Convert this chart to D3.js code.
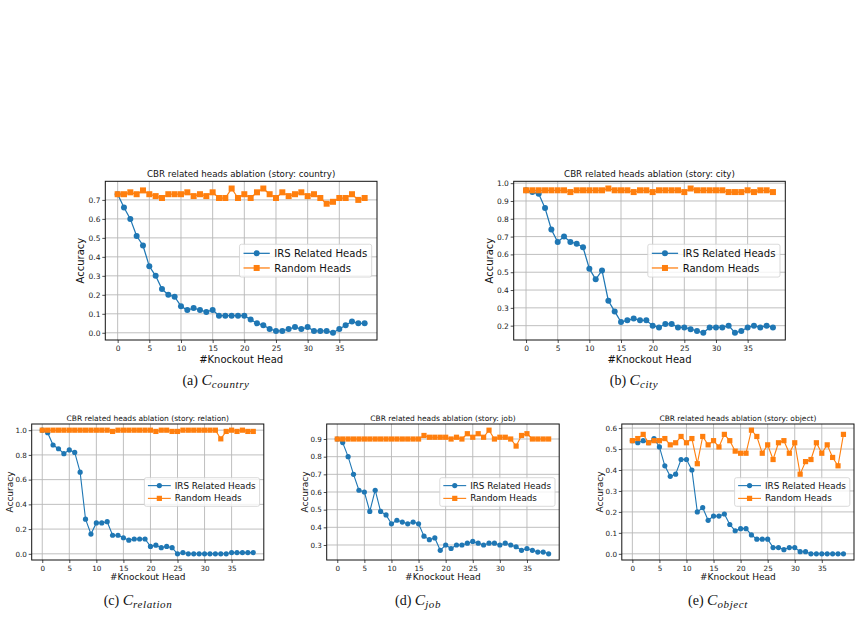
<!DOCTYPE html>
<head>
    <style>
        body {
            margin: 0;
            background: #fff;
            font-family: "DejaVu Sans", sans-serif;
        }

        .grid line {
            stroke: #b8b8b8;
            stroke-width: 0.9px;
        }

        .axis path.domain {
            display: none;
        }

        .axis line {
            stroke: #222;
            stroke-width: 0.8px;
        }

        .axis text {
            fill: #222;
        }

        .frame {
            fill: none;
            stroke: #111;
            stroke-width: 1px;
        }

        .caption {
            font-family: "Liberation Serif", "DejaVu Serif", serif;
            fill: #111;
        }
    </style>

    <script src='https://d3js.org/d3.v7.min.js'></script>
</head>
<body>
    <script>
        // accuracy per number of knocked-out heads (index = #heads)
        const countryIRS = [0.73, 0.66, 0.60, 0.51, 0.46, 0.35, 0.30, 0.23, 0.20, 0.19, 0.14, 0.12, 0.13, 0.12, 0.11, 0.12, 0.09, 0.09, 0.09, 0.09,
            0.09, 0.07, 0.05, 0.04, 0.02, 0.01, 0.01, 0.02, 0.03, 0.02, 0.03, 0.01, 0.01, 0.01, 0.00, 0.02, 0.04, 0.06, 0.05, 0.05];
        const countryRandom = [0.73, 0.73, 0.74, 0.73, 0.75, 0.73, 0.72, 0.71, 0.73, 0.73, 0.73, 0.74, 0.72, 0.73, 0.72, 0.74, 0.71, 0.71, 0.76, 0.71,
            0.73, 0.71, 0.74, 0.76, 0.73, 0.71, 0.74, 0.72, 0.73, 0.74, 0.72, 0.73, 0.71, 0.68, 0.69, 0.71, 0.71, 0.73, 0.70, 0.71];

        const cityIRS = [0.96, 0.95, 0.94, 0.86, 0.74, 0.67, 0.70, 0.67, 0.66, 0.64, 0.52, 0.46, 0.51, 0.34, 0.28, 0.22, 0.23, 0.24, 0.23, 0.23,
            0.20, 0.19, 0.21, 0.21, 0.19, 0.19, 0.18, 0.17, 0.16, 0.19, 0.19, 0.19, 0.20, 0.16, 0.17, 0.19, 0.20, 0.19, 0.20, 0.19];
        const cityRandom = [0.96, 0.96, 0.96, 0.96, 0.96, 0.96, 0.96, 0.95, 0.96, 0.96, 0.96, 0.96, 0.96, 0.97, 0.96, 0.96, 0.96, 0.95, 0.96, 0.96,
            0.95, 0.96, 0.96, 0.96, 0.96, 0.95, 0.97, 0.96, 0.96, 0.96, 0.96, 0.96, 0.95, 0.95, 0.95, 0.96, 0.95, 0.96, 0.96, 0.95];

        const relationIRS = [1.00, 0.98, 0.88, 0.85, 0.81, 0.84, 0.82, 0.66, 0.28, 0.16, 0.25, 0.25, 0.26, 0.15, 0.15, 0.13, 0.11, 0.12, 0.12, 0.12,
            0.06, 0.07, 0.05, 0.06, 0.05, 0.00, 0.01, 0.00, 0.00, 0.00, 0.00, 0.00, 0.00, 0.00, 0.00, 0.01, 0.01, 0.01, 0.01, 0.01];
        const relationRandom = [1.00, 1.00, 1.00, 1.00, 1.00, 1.00, 1.00, 1.00, 1.00, 1.00, 1.00, 1.00, 1.00, 0.99, 1.00, 1.00, 1.00, 1.00, 1.00, 1.00,
            1.00, 0.99, 1.00, 1.00, 0.99, 0.99, 1.00, 1.00, 1.00, 1.00, 1.00, 1.00, 1.00, 0.93, 0.99, 1.00, 0.99, 1.00, 0.99, 0.99];

        const jobIRS = [0.90, 0.88, 0.80, 0.70, 0.61, 0.60, 0.49, 0.61, 0.49, 0.47, 0.42, 0.44, 0.43, 0.42, 0.43, 0.42, 0.35, 0.33, 0.34, 0.27,
            0.30, 0.28, 0.30, 0.30, 0.31, 0.32, 0.31, 0.30, 0.31, 0.31, 0.30, 0.31, 0.30, 0.29, 0.27, 0.28, 0.27, 0.26, 0.26, 0.25];
        const jobRandom = [0.90, 0.90, 0.90, 0.90, 0.90, 0.90, 0.90, 0.90, 0.90, 0.90, 0.90, 0.90, 0.90, 0.90, 0.90, 0.90, 0.92, 0.91, 0.91, 0.91,
            0.91, 0.90, 0.91, 0.90, 0.93, 0.91, 0.93, 0.91, 0.95, 0.90, 0.91, 0.91, 0.90, 0.86, 0.92, 0.93, 0.90, 0.90, 0.90, 0.90];

        const objectIRS = [0.54, 0.53, 0.54, 0.53, 0.55, 0.51, 0.42, 0.37, 0.38, 0.45, 0.45, 0.40, 0.20, 0.22, 0.16, 0.18, 0.18, 0.19, 0.14, 0.11,
            0.12, 0.12, 0.09, 0.07, 0.07, 0.07, 0.03, 0.03, 0.02, 0.03, 0.03, 0.01, 0.01, 0.00, 0.00, 0.00, 0.00, 0.00, 0.00, 0.00];
        const objectRandom = [0.54, 0.55, 0.57, 0.53, 0.54, 0.54, 0.55, 0.52, 0.53, 0.56, 0.53, 0.55, 0.43, 0.56, 0.52, 0.54, 0.51, 0.57, 0.54, 0.49,
            0.48, 0.48, 0.59, 0.56, 0.48, 0.52, 0.45, 0.53, 0.54, 0.48, 0.53, 0.38, 0.44, 0.45, 0.53, 0.48, 0.52, 0.46, 0.42, 0.57];

        // tick labels
        const xTicks = [0, 5, 10, 15, 20, 25, 30, 35];
        const countryTicks = [0.0, 0.1, 0.2, 0.3, 0.4, 0.5, 0.6, 0.7];
        const cityTicks = [0.2, 0.3, 0.4, 0.5, 0.6, 0.7, 0.8, 0.9, 1.0];
        const relationTicks = [0.0, 0.2, 0.4, 0.6, 0.8, 1.0];
        const jobTicks = [0.3, 0.4, 0.5, 0.6, 0.7, 0.8, 0.9];
        const objectTicks = [0.0, 0.1, 0.2, 0.3, 0.4, 0.5, 0.6];

        const stories = ['country', 'city', 'relation', 'job', 'object'];
        const letters = ['(a)', '(b)', '(c)', '(d)', '(e)'];
        const seriesNames = ['IRS Related Heads', 'Random Heads'];

        const panels = [
            { irs: countryIRS, rnd: countryRandom, yTicks: countryTicks },
            { irs: cityIRS, rnd: cityRandom, yTicks: cityTicks },
            { irs: relationIRS, rnd: relationRandom, yTicks: relationTicks },
            { irs: jobIRS, rnd: jobRandom, yTicks: jobTicks },
            { irs: objectIRS, rnd: objectRandom, yTicks: objectTicks }
        ];

        // layout (pixels) -- top row figures are a bit larger than the bottom row
        const boxes = [
            { left: 105.3, top: 181.3, width: 271.7, height: 158.7, capX: 216, capY: 385 },
            { left: 513.7, top: 181.3, width: 271.6, height: 158.7, capX: 634, capY: 385 },
            { left: 31.7, top: 424, width: 232.1, height: 136, capX: 138, capY: 605 },
            { left: 326.7, top: 424, width: 232.5, height: 136, capX: 418, capY: 605 },
            { left: 621.8, top: 424, width: 232.2, height: 136, capX: 718, capY: 605 }
        ];
        const big = { title: 8.7, titleGap: 4.8, tick: 7.5, label: 10, xlabGap: 22.8, ylabGap: 24.5,
            legend: 10.1, legGap: 5.3, r: 3, sq: 6, lw: 1.25 };
        const small = { title: 7.5, titleGap: 3.2, tick: 7.2, label: 9, xlabGap: 19.8, ylabGap: 21.5,
            legend: 8.8, legGap: 4.2, r: 2.6, sq: 5.2, lw: 1.1 };

        const blue = '#1f77b4', orange = '#ff7f0e';
        const fmt = d3.format('.1f');

        const svg = d3.select('body').append('svg')
            .attr('width', 862)
            .attr('height', 626);

        panels.forEach((p, k) => {
            const b = boxes[k];
            const st = k < 2 ? big : small;
            const n = p.irs.length;

            const all = p.irs.concat(p.rnd);
            const lo = d3.min(all), hi = d3.max(all), m = (hi - lo) * 0.05;
            const xm = (n - 1) * 0.05;

            const x = d3.scaleLinear().domain([-xm, n - 1 + xm]).range([0, b.width]);
            const y = d3.scaleLinear().domain([lo - m, hi + m]).range([b.height, 0]);

            const g = svg.append('g')
                .attr('transform', `translate(${b.left},${b.top})`);

            // grid
            const grid = g.append('g').attr('class', 'grid');
            grid.selectAll('line.gx').data(xTicks).join('line')
                .attr('class', 'gx')
                .attr('x1', d => x(d)).attr('x2', d => x(d))
                .attr('y1', 0).attr('y2', b.height);
            grid.selectAll('line.gy').data(p.yTicks).join('line')
                .attr('class', 'gy')
                .attr('x1', 0).attr('x2', b.width)
                .attr('y1', d => y(d)).attr('y2', d => y(d));

            // axes
            g.append('g').attr('class', 'axis')
                .attr('transform', `translate(0,${b.height})`)
                .call(d3.axisBottom(x).tickValues(xTicks).tickSize(3).tickPadding(2.6))
                .selectAll('text')
                .style('font-family', '"DejaVu Sans", sans-serif')
                .style('font-size', st.tick + 'px');

            g.append('g').attr('class', 'axis')
                .call(d3.axisLeft(y).tickValues(p.yTicks).tickFormat(fmt).tickSize(3).tickPadding(1.8))
                .selectAll('text')
                .style('font-family', '"DejaVu Sans", sans-serif')
                .style('font-size', st.tick + 'px');

            // series
            const line = d3.line().x((d, i) => x(i)).y(d => y(d));

            g.append('path').datum(p.irs)
                .attr('d', line)
                .attr('fill', 'none')
                .attr('stroke', blue)
                .attr('stroke-width', st.lw);
            g.selectAll('circle.irs').data(p.irs).join('circle')
                .attr('class', 'irs')
                .attr('cx', (d, i) => x(i))
                .attr('cy', d => y(d))
                .attr('r', st.r)
                .attr('fill', blue);

            g.append('path').datum(p.rnd)
                .attr('d', line)
                .attr('fill', 'none')
                .attr('stroke', orange)
                .attr('stroke-width', st.lw);
            g.selectAll('rect.rnd').data(p.rnd).join('rect')
                .attr('class', 'rnd')
                .attr('x', (d, i) => x(i) - st.sq / 2)
                .attr('y', d => y(d) - st.sq / 2)
                .attr('width', st.sq)
                .attr('height', st.sq)
                .attr('fill', orange);

            // frame
            g.append('rect').attr('class', 'frame')
                .attr('width', b.width)
                .attr('height', b.height);

            // title + axis labels
            g.append('text')
                .attr('x', b.width / 2)
                .attr('y', -st.titleGap)
                .attr('text-anchor', 'middle')
                .style('font-size', st.title + 'px')
                .style('fill', '#111')
                .text(`CBR related heads ablation (story: ${stories[k]})`);

            g.append('text')
                .attr('x', b.width / 2)
                .attr('y', b.height + st.xlabGap)
                .attr('text-anchor', 'middle')
                .style('font-size', st.label + 'px')
                .style('fill', '#111')
                .text('#Knockout Head');

            g.append('text')
                .attr('transform', `translate(${-st.ylabGap},${b.height / 2}) rotate(-90)`)
                .attr('text-anchor', 'middle')
                .attr('dy', '0.35em')
                .style('font-size', st.label + 'px')
                .style('fill', '#111')
                .text('Accuracy');

            // legend, center right
            const fs = st.legend;
            const leg = g.append('g');
            const box = leg.append('rect')
                .attr('rx', 2)
                .attr('fill', '#fff')
                .attr('fill-opacity', 0.8)
                .attr('stroke', '#d0d0d0')
                .attr('stroke-width', 0.8);

            const rowH = fs * 1.45;
            const padL = fs * 0.4, handle = fs * 2.6, gap = fs * 0.45, padR = fs * 0.45;
            const rows = leg.selectAll('g.row').data(seriesNames).join('g')
                .attr('class', 'row')
                .attr('transform', (d, i) => `translate(0,${i * rowH})`);

            rows.append('line')
                .attr('x1', padL).attr('x2', padL + handle)
                .attr('stroke', (d, i) => i ? orange : blue)
                .attr('stroke-width', st.lw);
            rows.filter((d, i) => i === 0).append('circle')
                .attr('cx', padL + handle / 2).attr('r', st.r)
                .attr('fill', blue);
            rows.filter((d, i) => i === 1).append('rect')
                .attr('x', padL + handle / 2 - st.sq / 2).attr('y', -st.sq / 2)
                .attr('width', st.sq).attr('height', st.sq)
                .attr('fill', orange);
            const labels = rows.append('text')
                .attr('x', padL + handle + gap)
                .attr('dy', '0.35em')
                .style('font-size', fs + 'px')
                .style('fill', '#111')
                .text(d => d);

            const tw = d3.max(labels.nodes(), nd => nd.getComputedTextLength());
            const bw = padL + handle + gap + tw + padR;
            const bh = rowH + fs * 1.8;
            box.attr('x', 0).attr('y', -(bh - rowH) / 2)
                .attr('width', bw).attr('height', bh);

            leg.attr('transform',
                `translate(${b.width - st.legGap - bw},${b.height / 2 - rowH / 2})`);

            // sub-figure caption
            const cap = svg.append('text')
                .attr('class', 'caption')
                .attr('x', b.capX)
                .attr('y', b.capY)
                .attr('text-anchor', 'middle');
            cap.append('tspan').style('font-size', '14px').text(letters[k] + ' ');
            cap.append('tspan').style('font-size', '15.5px').style('font-style', 'italic').text('C');
            cap.append('tspan').attr('dy', 3)
                .style('font-size', '11px')
                .style('font-style', 'italic')
                .style('letter-spacing', '0.6px')
                .text(stories[k]);
        });
    </script>
</body>
